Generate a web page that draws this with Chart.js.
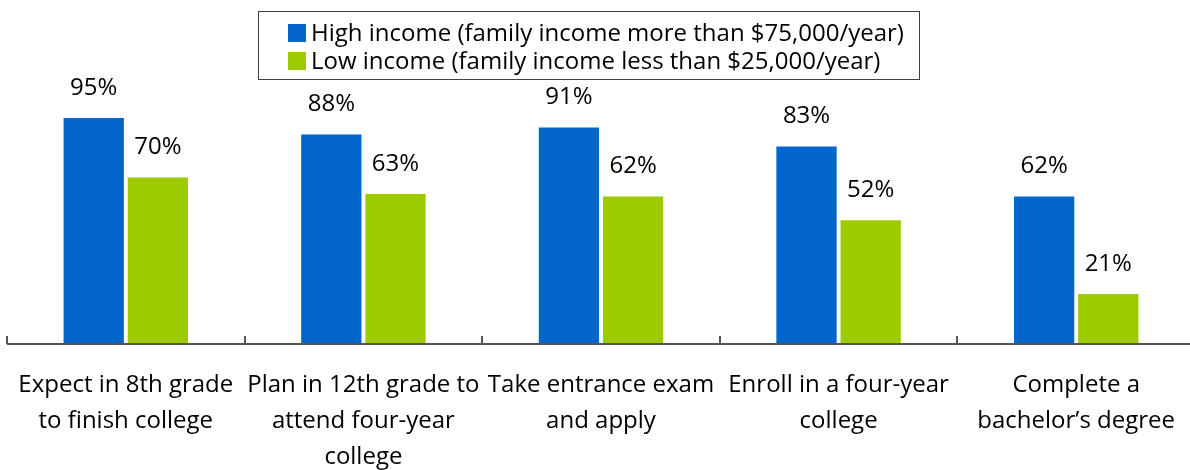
<!DOCTYPE html>
<html>
<head>
<meta charset="utf-8">
<script src="https://cdn.jsdelivr.net/npm/chart.js@4"></script>
<style>
  html, body { margin: 0; padding: 0; background: #fff; overflow: hidden; }
  .wrap { position: relative; width: 1190px; height: 470px; overflow: hidden; }
  .wrap canvas { position: absolute; left: 0; top: 0; }
  .legend {
    position: absolute; left: 258px; top: 11px; width: 662px; height: 69px;
    border: 1px solid #404040; box-sizing: border-box;
    font-family: "Open Sans", sans-serif; font-size: 24px; color: #000;
    padding-left: 29px; padding-top: 6px;
  }
  .legend div { height: 28px; line-height: 28px; white-space: nowrap; }
  .legend span.sw { display: inline-block; width: 18px; height: 18px; margin-right: 5px; vertical-align: -1px; }
</style>
</head>
<body>
<div class="wrap">
  <canvas id="chart" width="1200" height="470"></canvas>
  <div class="legend" id="legend"></div>
</div>
<script>
const categories = [
  ['Expect in 8th grade', 'to finish college'],
  ['Plan in 12th grade to', 'attend four-year', 'college'],
  ['Take entrance exam', 'and apply'],
  ['Enroll in a four-year', 'college'],
  ['Complete a', 'bachelor\u2019s degree']
];
const seriesNames = [
  'High income (family income more than $75,000/year)',
  'Low income (family income less than $25,000/year)'
];
const highIncome = [95, 88, 91, 83, 62];
const lowIncome = [70, 63, 62, 52, 21];
const colors = ['#0066cc', '#9ccc00'];

const FONT = '"Open Sans", sans-serif';

// html legend in a box
const legendEl = document.getElementById('legend');
seriesNames.forEach((name, i) => {
  const row = document.createElement('div');
  const sw = document.createElement('span');
  sw.className = 'sw';
  sw.style.background = colors[i];
  row.appendChild(sw);
  row.appendChild(document.createTextNode(name));
  legendEl.appendChild(row);
});

// value labels above bars + small tick marks pointing up from the axis
const extras = {
  id: 'extras',
  afterDatasetsDraw(chart) {
    const ctx = chart.ctx;
    const area = chart.chartArea;
    ctx.save();
    ctx.font = '24px ' + FONT;
    ctx.fillStyle = '#000';
    ctx.textAlign = 'center';
    ctx.textBaseline = 'middle';
    chart.data.datasets.forEach((ds, i) => {
      chart.getDatasetMeta(i).data.forEach((bar, j) => {
        ctx.fillText(ds.data[j] + '%', bar.x, bar.y - 30);
      });
    });
    ctx.strokeStyle = '#555';
    ctx.lineWidth = 2;
    ctx.beginPath();
    for (let k = 0; k <= categories.length; k++) {
      const px = Math.round(area.left + k * (area.right - area.left) / categories.length);
      ctx.moveTo(px, area.bottom - 8);
      ctx.lineTo(px, area.bottom);
    }
    ctx.moveTo(area.left, area.bottom);
    ctx.lineTo(area.right, area.bottom);
    ctx.stroke();
    ctx.restore();
  }
};

new Chart(document.getElementById('chart'), {
  type: 'bar',
  data: {
    labels: categories,
    datasets: [
      { label: seriesNames[0], data: highIncome, backgroundColor: colors[0], categoryPercentage: 0.54, barPercentage: 0.94 },
      { label: seriesNames[1], data: lowIncome, backgroundColor: colors[1], categoryPercentage: 0.54, barPercentage: 0.94 }
    ]
  },
  options: {
    responsive: false,
    animation: false,
    layout: { padding: { left: 7, right: 5, top: 106, bottom: 0 } },
    plugins: { legend: { display: false }, tooltip: { enabled: false } },
    scales: {
      x: {
        grid: { display: false, drawTicks: false },
        border: { display: false },
        afterFit(scale) {
          scale.height = 126;
          scale.paddingLeft = 0;
          scale.paddingRight = 0;
        },
        ticks: {
          color: '#000',
          padding: 23,
          maxRotation: 0,
          autoSkip: false,
          font: { family: FONT, size: 24, lineHeight: 1.5 }
        }
      },
      y: { display: false, min: 0, max: 100 }
    }
  },
  plugins: [extras]
});
</script>
</body>
</html>
